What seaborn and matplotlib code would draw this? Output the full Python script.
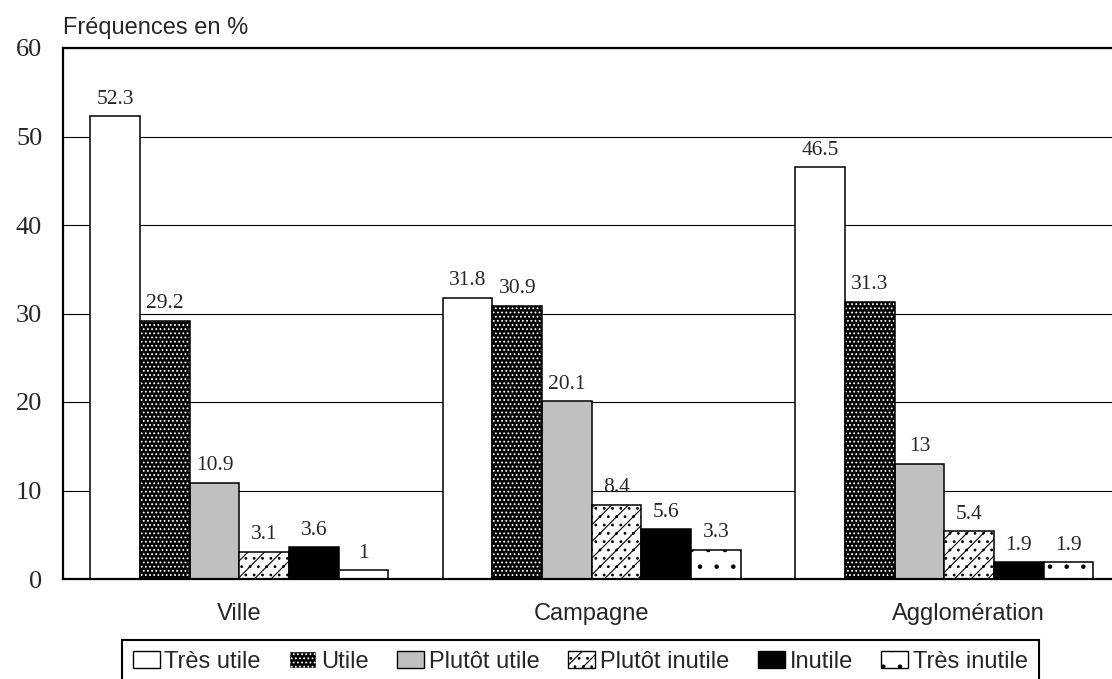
import pandas as pd
import matplotlib.pyplot as plt
import seaborn as sns
from matplotlib.patches import Patch, Rectangle
from matplotlib.transforms import ScaledTranslation

# data
zones = ['Ville', 'Campagne', 'Agglomération']
reponses = ['Très utile', 'Utile', 'Plutôt utile', 'Plutôt inutile', 'Inutile', 'Très inutile']
tres_utile = [52.3, 31.8, 46.5]
utile = [29.2, 30.9, 31.3]
plutot_utile = [10.9, 20.1, 13]
plutot_inutile = [3.1, 8.4, 5.4]
inutile = [3.6, 5.6, 1.9]
tres_inutile = [1, 3.3, 1.9]
yticks = [0, 10, 20, 30, 40, 50, 60]

# fill, hatch, hatch colour for each answer
styles = [
    ('white', None, 'black'),
    ('black', '....', 'white'),
    ('#c0c0c0', None, 'black'),
    ('white', '//..', 'black'),
    ('black', None, 'black'),
    ('white', '.', 'black'),
]


def build_frame():
    series = [tres_utile, utile, plutot_utile, plutot_inutile, inutile, tres_inutile]
    rows = []
    for rep, vals in zip(reponses, series):
        for zone, v in zip(zones, vals):
            rows.append({'zone': zone, 'reponse': rep, 'freq': v})
    return pd.DataFrame(rows)


def main():
    df = build_frame()
    sns.set_style('white')
    plt.rcParams['hatch.linewidth'] = 0.8

    fig = plt.figure(figsize=(11.12, 6.79), dpi=100)
    # plot area runs past the right edge, as in the reference
    ax = fig.add_axes([63 / 1112, 100 / 679, 1057.5 / 1112, 531 / 679])

    sns.barplot(data=df, x='zone', y='freq', hue='reponse', order=zones,
                hue_order=reponses, palette=['white'] * 6, width=0.845,
                edgecolor='black', linewidth=1.1, legend=False, ax=ax,
                errorbar=None)

    for cont, (fc, hatch, hc), rep in zip(ax.containers, styles, reponses):
        for bar, val in zip(cont.patches, df[df.reponse == rep]['freq']):
            bar.set_facecolor(fc)
            if hatch:
                bar.set_hatch(hatch)
                bar.set_edgecolor(hc)
                bar.set_linewidth(0)
                # black outline drawn on top of the hatched bar
                ax.add_patch(Rectangle((bar.get_x(), bar.get_y()), bar.get_width(),
                                       bar.get_height(), fill=False,
                                       edgecolor='black', linewidth=1.1, zorder=3))
            ax.annotate(f'{val:g}', (bar.get_x() + bar.get_width() / 2, val),
                        xytext=(0, 9), textcoords='offset points', ha='center',
                        va='baseline', fontsize=15.5, family='Liberation Serif')

    ax.set_xlim(-0.5, 2.5)
    ax.set_ylim(0, 60)
    ax.set_yticks(yticks)
    ax.yaxis.grid(True, color='black', linewidth=0.8)
    ax.set_axisbelow(True)
    ax.tick_params(axis='y', length=0, pad=15, labelsize=19)
    ax.tick_params(axis='x', length=0, pad=17, labelsize=17)
    for lab in ax.get_yticklabels():
        lab.set_family('Liberation Serif')
    for lab in ax.get_xticklabels():
        lab.set_family('Liberation Sans')
    # last category label sits a bit right of its group in the reference
    last = ax.get_xticklabels()[-1]
    last.set_transform(last.get_transform() + ScaledTranslation(0.24, 0, fig.dpi_scale_trans))
    ax.set_xlabel('')
    ax.set_ylabel('')
    for side in ['left', 'top', 'bottom']:
        ax.spines[side].set_color('black')
        ax.spines[side].set_linewidth(1.6)
    ax.spines['right'].set_visible(False)

    fig.text(63 / 1112, 1 - 34 / 679, 'Fréquences en %', fontsize=17,
             family='Liberation Sans', va='baseline')

    handles = []
    for (fc, hatch, hc), rep in zip(styles, reponses):
        handles.append(Patch(facecolor=fc, hatch=hatch,
                             edgecolor=hc if hatch else 'black', linewidth=1, label=rep))
    leg = fig.legend(handles=handles, loc='upper left', ncol=6,
                     bbox_to_anchor=(122 / 1112, 1 - 640 / 679), borderaxespad=0,
                     prop={'family': 'Liberation Sans', 'size': 17},
                     handlelength=1.15, handleheight=0.76, handletextpad=0.2,
                     columnspacing=1.2, borderpad=0.45, fancybox=False,
                     edgecolor='black', framealpha=1)
    leg.get_frame().set_linewidth(1.5)

    fig.savefig('out.png', dpi=100)
    plt.close(fig)


if __name__ == "__main__":
    main()
